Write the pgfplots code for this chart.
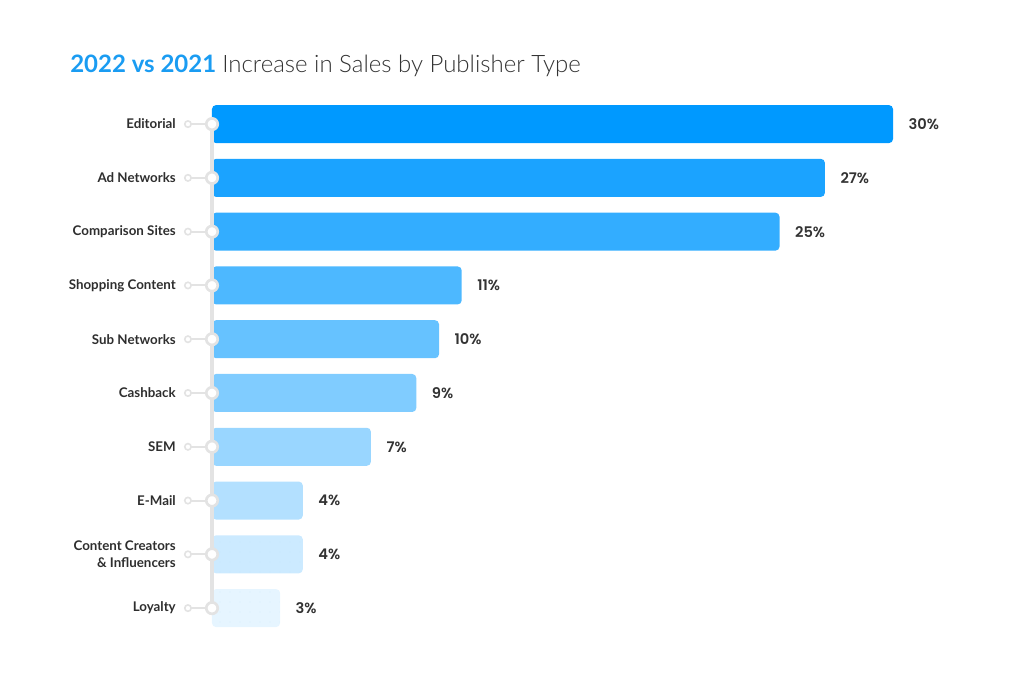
\documentclass[border=0pt]{standalone}
\usepackage{fontspec}
\setmainfont{Lato}
\newfontfamily\latolight{Lato Light}
\newfontfamily\popfont{Poppins SemiBold}
\usepackage{pgfplots}
\pgfplotsset{compat=1.18}
\usetikzlibrary{patterns.meta}
\definecolor{c0}{HTML}{0099FF}
\definecolor{c1}{HTML}{1BA3FF}
\definecolor{c2}{HTML}{33ADFF}
\definecolor{c3}{HTML}{4DB8FF}
\definecolor{c4}{HTML}{66C2FF}
\definecolor{c5}{HTML}{80CCFF}
\definecolor{c6}{HTML}{99D6FF}
\definecolor{c7}{HTML}{B3E0FF}
\definecolor{c8}{HTML}{CCEAFF}
\definecolor{c9}{HTML}{E6F5FF}
\definecolor{dotc}{HTML}{BFE0F7}
\definecolor{linegray}{HTML}{E3E3E3}
\definecolor{titleblue}{HTML}{1A9CF2}
\definecolor{titlegray}{HTML}{333333}
\definecolor{labelgray}{HTML}{2E2E2E}
\definecolor{valgray}{HTML}{333333}
\pgfplotsset{
  mybar/.style={xbar, bar width=28.5pt, bar shift=0pt, draw=none, rounded corners=3pt,
    point meta=x,
    nodes near coords={\pgfmathprintnumber[assume math mode=true]{\pgfplotspointmeta}\%},
    nodes near coords style={anchor=west, inner sep=0pt, xshift=11.5pt,
      font=\popfont\fontsize{11}{12}\selectfont, text=valgray}},
}
\begin{document}
\begin{tikzpicture}
\path[use as bounding box] (-159pt,-35.25pt) rectangle (609.75pt,476.25pt);
\node[anchor=base west, inner sep=0pt, font=\fontsize{18}{22}\selectfont] at (-106.5pt,421.5pt)
  {\textcolor{titleblue}{\bfseries 2022 vs 2021} \textcolor{titlegray}{\latolight Increase in Sales by Publisher Type}};
\begin{axis}[at={(0,0)}, anchor=south west, scale only axis,
  width=510.75pt, height=403.35pt,
  xmin=0, xmax=30, ymin=-0.5, ymax=9.5, y dir=reverse,
  axis line style={draw=none}, xtick=\empty,
  ytick={0,...,9},
  yticklabels={Editorial, Ad Networks, Comparison Sites, Shopping Content, Sub Networks, Cashback, SEM, E-Mail, {Content Creators\\\& Influencers}, Loyalty},
  major tick length=0pt,
  yticklabel style={anchor=east, inner sep=0pt, xshift=-27pt, align=right,
    font=\fontsize{10}{12.75}\selectfont\bfseries, text=labelgray},
  clip=false]
\addplot[mybar, fill=c0] coordinates {(30,0)};
\addplot[mybar, fill=c1] coordinates {(27,1)};
\addplot[mybar, fill=c2] coordinates {(25,2)};
\addplot[mybar, fill=c3] coordinates {(11,3)};
\addplot[mybar, fill=c4] coordinates {(10,4)};
\addplot[mybar, fill=c5] coordinates {(9,5)};
\addplot[mybar, fill=c6] coordinates {(7,6)};
\addplot[mybar, fill=c7] coordinates {(4,7)};
\addplot[mybar, fill=c8, postaction={pattern={Dots[distance=7.5pt, radius=0.35pt]}, pattern color=dotc}] coordinates {(4,8)};
\addplot[mybar, fill=c9, postaction={pattern={Dots[distance=7.5pt, radius=0.35pt]}, pattern color=dotc}] coordinates {(3,9)};
% timeline decorations
\addplot[linegray, line width=2.4pt, mark=none] coordinates {(0,0) (0,9)};
\addplot[xcomb, linegray, line width=1.5pt, mark=none] coordinates {(-0.95,0) (-0.95,1) (-0.95,2) (-0.95,3) (-0.95,4) (-0.95,5) (-0.95,6) (-0.95,7) (-0.95,8) (-0.95,9)};
\addplot[only marks, mark=*, mark size=2.4pt, mark options={fill=white, draw=linegray, line width=1.2pt}]
  coordinates {(-1.06,0) (-1.06,1) (-1.06,2) (-1.06,3) (-1.06,4) (-1.06,5) (-1.06,6) (-1.06,7) (-1.06,8) (-1.06,9)};
\addplot[only marks, mark=*, mark size=4.3pt, mark options={fill=white, draw=linegray, line width=2pt}]
  coordinates {(0,0) (0,1) (0,2) (0,3) (0,4) (0,5) (0,6) (0,7) (0,8) (0,9)};
\end{axis}
\end{tikzpicture}
\end{document}
